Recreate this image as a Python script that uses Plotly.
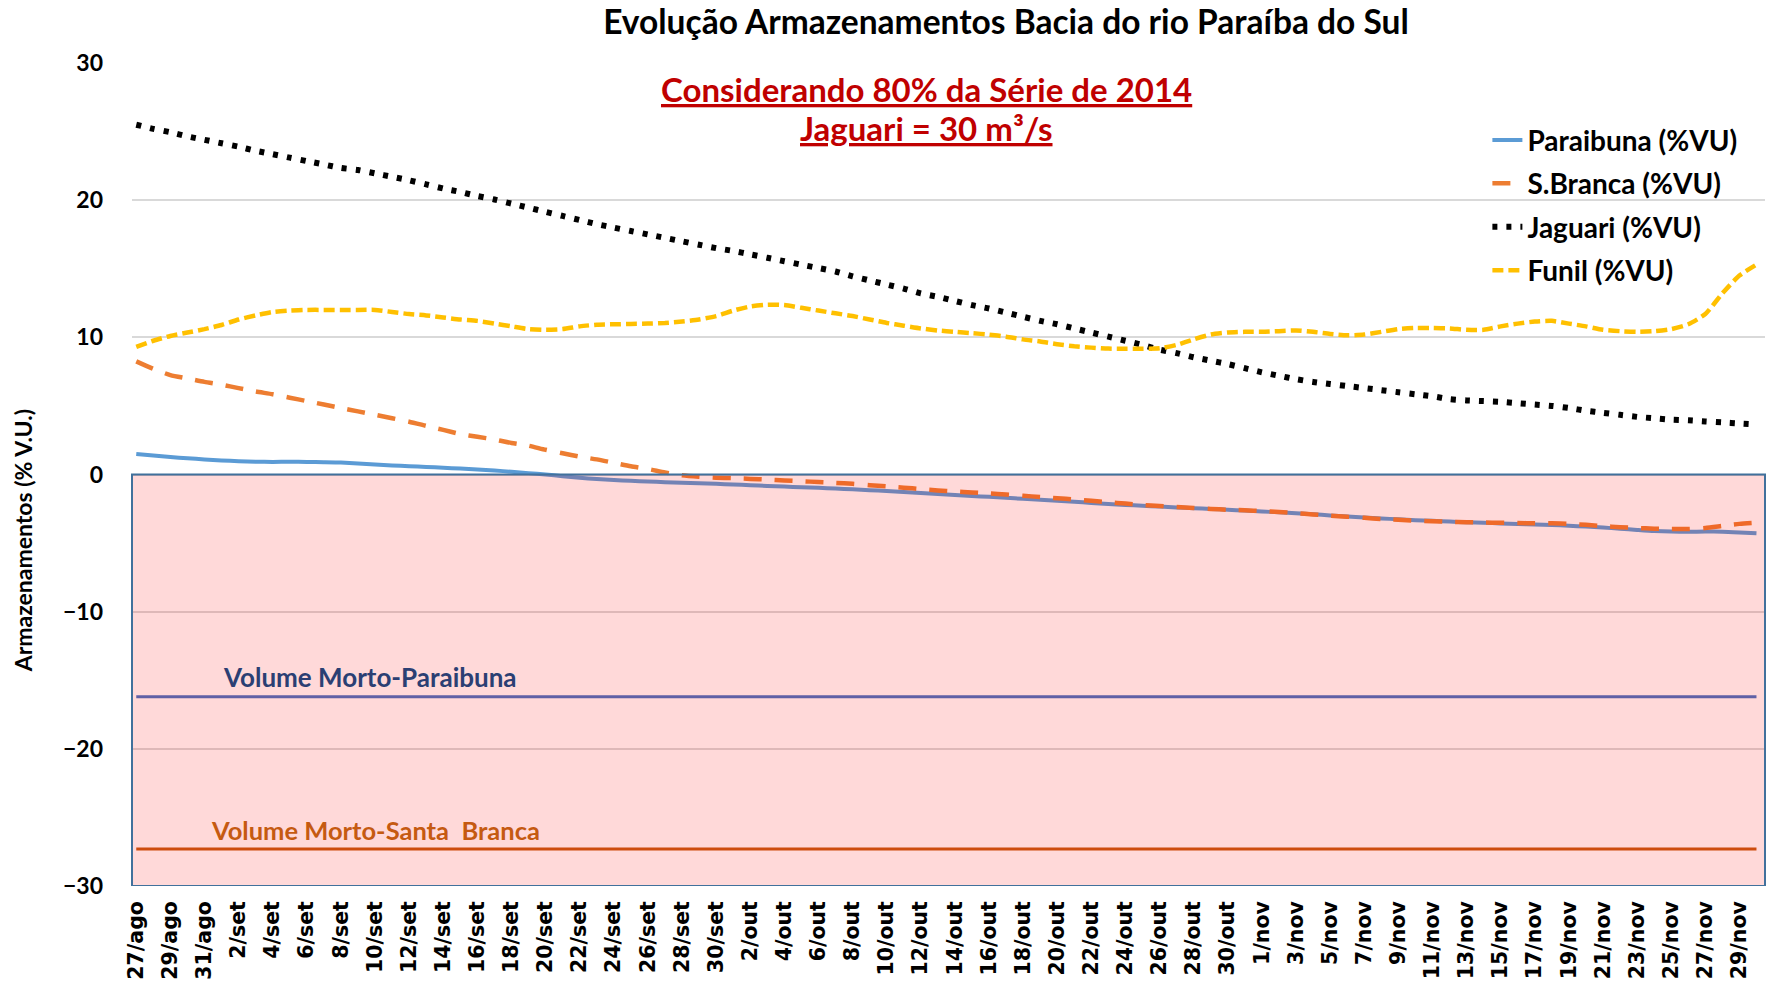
import plotly.graph_objects as go

# ---------------- data ----------------
dates = (["27/ago", "28/ago", "29/ago", "30/ago", "31/ago"]
         + [f"{d}/set" for d in range(1, 31)]
         + [f"{d}/out" for d in range(1, 32)]
         + [f"{d}/nov" for d in range(1, 31)])
tick_labels = dates[::2]

paraibuna = [1.5, 1.38, 1.27, 1.18, 1.1, 1.02, 0.97, 0.93, 0.92, 0.93,
             0.92, 0.9, 0.87, 0.8, 0.72, 0.66, 0.6, 0.55, 0.49, 0.43,
             0.36, 0.29, 0.2, 0.1, 0.0, -0.12, -0.24, -0.33, -0.4, -0.46,
             -0.51, -0.56, -0.6, -0.64, -0.68, -0.73, -0.78, -0.84, -0.88, -0.93,
             -0.97, -1.02, -1.08, -1.14, -1.21, -1.28, -1.35, -1.42, -1.49, -1.56,
             -1.63, -1.7, -1.77, -1.84, -1.92, -1.99, -2.07, -2.15, -2.22, -2.28,
             -2.34, -2.4, -2.46, -2.51, -2.57, -2.63, -2.69, -2.76, -2.83, -2.9,
             -2.98, -3.06, -3.13, -3.2, -3.27, -3.33, -3.38, -3.43, -3.48, -3.52,
             -3.57, -3.61, -3.65, -3.68, -3.73, -3.8, -3.87, -3.95, -4.04, -4.12,
             -4.16, -4.17, -4.16, -4.17, -4.22, -4.28]

sbranca = [8.25, 7.7, 7.25, 7.0, 6.75, 6.55, 6.3, 6.05, 5.85, 5.6,
           5.35, 5.1, 4.85, 4.6, 4.35, 4.1, 3.85, 3.55, 3.25, 2.95,
           2.75, 2.55, 2.3, 2.1, 1.8, 1.55, 1.3, 1.1, 0.85, 0.6,
           0.4, 0.15, -0.05, -0.16, -0.23, -0.27, -0.32, -0.37, -0.43, -0.49,
           -0.55, -0.61, -0.68, -0.78, -0.87, -0.96, -1.06, -1.16, -1.24, -1.31,
           -1.38, -1.46, -1.55, -1.64, -1.73, -1.82, -1.92, -2.02, -2.12, -2.22,
           -2.29, -2.37, -2.44, -2.51, -2.57, -2.61, -2.66, -2.73, -2.82, -2.91,
           -3.0, -3.08, -3.16, -3.24, -3.3, -3.36, -3.41, -3.45, -3.48, -3.5,
           -3.52, -3.54, -3.55, -3.56, -3.6, -3.67, -3.76, -3.84, -3.9, -3.95,
           -3.97, -3.97, -3.9, -3.75, -3.6, -3.52]

jaguari = [25.5, 25.2, 24.95, 24.65, 24.4, 24.15, 23.9, 23.6, 23.35, 23.1,
           22.85, 22.6, 22.35, 22.2, 21.95, 21.7, 21.45, 21.15, 20.85, 20.6,
           20.3, 20.05, 19.75, 19.45, 19.15, 18.85, 18.55, 18.25, 18.0, 17.75,
           17.5, 17.25, 17.0, 16.75, 16.5, 16.3, 16.05, 15.8, 15.55, 15.3,
           15.05, 14.8, 14.45, 14.15, 13.85, 13.55, 13.2, 12.95, 12.65, 12.35,
           12.1, 11.8, 11.5, 11.2, 10.95, 10.65, 10.35, 10.05, 9.75, 9.45,
           9.1, 8.85, 8.55, 8.3, 8.05, 7.75, 7.45, 7.2, 6.95, 6.75,
           6.6, 6.45, 6.3, 6.15, 6.0, 5.85, 5.7, 5.5, 5.4, 5.35,
           5.3, 5.2, 5.1, 5.0, 4.85, 4.65, 4.5, 4.35, 4.2, 4.1,
           4.0, 3.95, 3.87, 3.8, 3.72, 3.65]

funil = [9.3, 9.75, 10.1, 10.35, 10.6, 10.9, 11.3, 11.6, 11.85, 11.95,
         12.0, 12.0, 12.0, 12.0, 12.0, 11.85, 11.7, 11.6, 11.45, 11.3,
         11.2, 11.0, 10.8, 10.6, 10.55, 10.6, 10.8, 10.92, 10.95, 10.98,
         11.0, 11.05, 11.15, 11.3, 11.55, 11.95, 12.25, 12.38, 12.35, 12.15,
         11.95, 11.75, 11.55, 11.3, 11.05, 10.85, 10.65, 10.5, 10.4, 10.3,
         10.2, 10.05, 9.85, 9.7, 9.5, 9.35, 9.25, 9.18, 9.17, 9.17,
         9.2, 9.45, 9.85, 10.2, 10.35, 10.4, 10.4, 10.45, 10.5, 10.4,
         10.25, 10.15, 10.2, 10.4, 10.6, 10.68, 10.68, 10.65, 10.55, 10.55,
         10.8, 11.0, 11.15, 11.2, 11.0, 10.8, 10.55, 10.45, 10.4, 10.45,
         10.6, 10.95, 11.7, 13.2, 14.5, 15.3]

vm_paraibuna = -16.2
vm_sbranca = -27.3

# ---------------- figure ----------------
FONT = "Lato"
fig = go.Figure()

series = [
    ("Paraibuna (%VU)", paraibuna, dict(color="#5B9BD5", width=4, dash="solid")),
    ("S.Branca (%VU)", sbranca, dict(color="#ED7D31", width=4.5, dash="18px,13px")),
    ("Jaguari (%VU)", jaguari, dict(color="#000000", width=6, dash="5px,9px")),
    ("Funil (%VU)", funil, dict(color="#FFC000", width=4.5, dash="11px,5px")),
]
for i, (name, vals, ln) in enumerate(series):
    fig.add_trace(go.Scatter(x=dates, y=vals, mode="lines", name=name,
                             line=dict(shape="spline", smoothing=0.6, **ln),
                             legendgroup=f"g{i}"))

fig.add_trace(go.Scatter(x=dates, y=[vm_paraibuna] * len(dates), mode="lines",
                         line=dict(color="#4472C4", width=3), showlegend=False))
fig.add_trace(go.Scatter(x=dates, y=[vm_sbranca] * len(dates), mode="lines",
                         line=dict(color="#C55A11", width=3), showlegend=False))

# translucent red overlay for the dead-volume zone
fig.add_shape(type="rect", xref="paper", yref="y", x0=0, x1=1, y0=-30, y1=0,
              fillcolor="rgba(255,0,0,0.15)", line=dict(color="#41719C", width=2),
              layer="above")

fig.add_annotation(text="<b>Volume Morto-Paraibuna</b>", xref="x", yref="y",
                   x=13.7, y=vm_paraibuna, yanchor="bottom", xanchor="center",
                   yshift=2, showarrow=False,
                   font=dict(family=FONT, size=26, color="#2B3F73"))
fig.add_annotation(text="<b>Volume Morto-Santa  Branca</b>", xref="x", yref="y",
                   x=14.0, y=vm_sbranca, yanchor="bottom", xanchor="center",
                   yshift=2, showarrow=False,
                   font=dict(family=FONT, size=25.5, color="#C55A11"))

fig.add_annotation(text="<b>Considerando 80% da Série de 2014</b>", xref="paper", yref="paper",
                   x=0.4868, y=0.968, xanchor="center", yanchor="middle", showarrow=False,
                   font=dict(family=FONT, size=33, color="#C00000", lineposition="under"))
fig.add_annotation(text="<b>Jaguari = 30 m³/s</b>", xref="paper", yref="paper",
                   x=0.4868, y=0.921, xanchor="center", yanchor="middle", showarrow=False,
                   font=dict(family=FONT, size=33, color="#C00000", lineposition="under"))

fig.add_annotation(text="<b>Armazenamentos (% V.U.)</b>", xref="paper", yref="paper",
                   x=-0.0667, y=0.419, xanchor="center", yanchor="middle",
                   textangle=-90, showarrow=False,
                   font=dict(family=FONT, size=23, color="#000000"))

fig.update_layout(
    width=1772, height=987,
    margin=dict(l=132, r=7, t=63, b=101),
    paper_bgcolor="white", plot_bgcolor="white",
    title=dict(text="<b>Evolução Armazenamentos Bacia do rio Paraíba do Sul</b>",
               x=0.5677, xanchor="center", y=0.9775, yanchor="middle",
               font=dict(family=FONT, size=33.5, color="#000000")),
    legend=dict(x=0.830, y=0.9365, xanchor="left", yanchor="top",
                font=dict(family=FONT, size=28, color="#000000", weight="bold"),
                traceorder="grouped", tracegroupgap=4,
                bgcolor="rgba(0,0,0,0)"),
    showlegend=True,
)
fig.update_xaxes(type="category", range=[-0.25, 95.5], showgrid=False, zeroline=False,
                 tickmode="array", tickvals=tick_labels, ticktext=tick_labels,
                 tickangle=-90, ticks="", showline=False, ticklabelstandoff=10,
                 tickfont=dict(family="DejaVu Sans", size=20.5, color="#000000", weight="bold"))
fig.update_yaxes(range=[-30, 30], tickvals=[-30, -20, -10, 0, 10, 20, 30],
                 showgrid=True, gridcolor="#D9D9D9", gridwidth=1.5, zeroline=False,
                 ticks="", ticklabelstandoff=28,
                 tickfont=dict(family=FONT, size=23, color="#000000", weight="bold"))

fig.write_html("out.html", config={"displayModeBar": False},
               post_script="document.body.style.margin='0';document.body.style.overflow='hidden';")
